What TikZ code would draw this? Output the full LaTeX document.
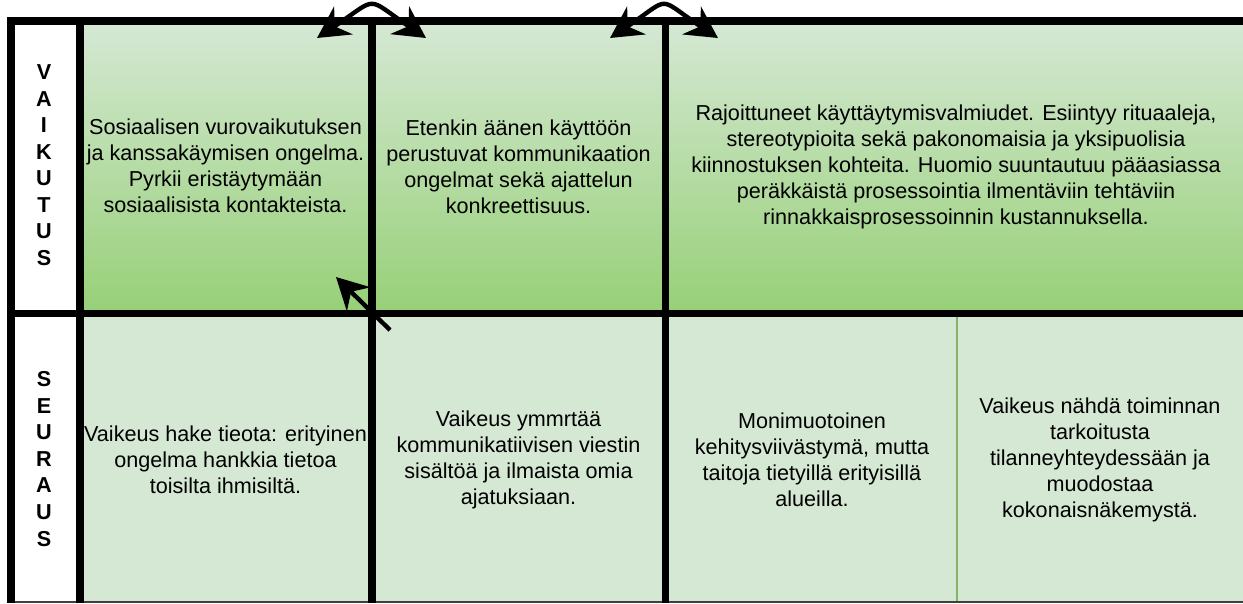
\documentclass[tikz,border=0pt]{standalone}
\usepackage{fontspec}
\setmainfont{Liberation Sans}
\usetikzlibrary{arrows.meta,positioning}
\definecolor{palegreen}{RGB}{213,232,212}
\definecolor{deepgreen}{RGB}{151,208,119}
\definecolor{thingreen}{RGB}{130,179,102}
\tikzset{
  celltext/.style={align=center, inner sep=0pt,
    font=\fontsize{12.3}{14.8}\selectfont},
  rowlabel/.style={align=center, inner sep=0pt,
    font=\bfseries\fontsize{12.3}{15.1}\selectfont},
  gridline/.style={line width=4pt},
  swapline/.style={line width=2.5pt,
    {Stealth[length=18pt,width=19pt,inset=6pt]}-{Stealth[length=18pt,width=19pt,inset=6pt]}},
  pushline/.style={line width=2.5pt, -{Stealth[length=18pt,width=19pt,inset=6pt]}}
}

\begin{document}
\begin{tikzpicture}[x=0.02cm,y=-0.02cm]
\useasboundingbox (0,0) rectangle (1243,603);
% backgrounds
\shade[top color=palegreen, bottom color=deepgreen] (80,21) rectangle (1243,313.5);
\fill[palegreen] (80,313.5) rectangle (1243,602);

% row labels
\node[rowlabel] (vaikutus) at (44,165) {V\\A\\I\\K\\U\\T\\U\\S};
\node[rowlabel] (seuraus) at (44,459) {S\\E\\U\\R\\A\\U\\S};

% upper row
\node[celltext] (v1) at (225.5,166) {Sosiaalisen vurovaikutuksen\\ja kanssakäymisen ongelma.\\Pyrkii eristäytymään\\sosiaalisista kontakteista.};
\node[celltext] (v2) at (518.5,167) {Etenkin äänen käyttöön\\perustuvat kommunikaation\\ongelmat sekä ajattelun\\konkreettisuus.};
\node[celltext] (v3) at (956,167) {Rajoittuneet käyttäytymisvalmiudet. Esiintyy rituaaleja,\\stereotypioita sekä pakonomaisia ja yksipuolisia\\kiinnostuksen kohteita. Huomio suuntautuu pääasiassa\\peräkkäistä prosessointia ilmentäviin tehtäviin\\rinnakkaisprosessoinnin kustannuksella.};

% lower row
\node[celltext] (s1) at (225.5,460) {Vaikeus hake tieota: erityinen\\ongelma hankkia tietoa\\toisilta ihmisiltä.};
\node[celltext] (s2) at (518.5,460) {Vaikeus ymmrtää\\kommunikatiivisen viestin\\sisältöä ja ilmaista omia\\ajatuksiaan.};
\node[celltext] (s3) at (812,460) {Monimuotoinen\\kehitysviivästymä, mutta\\taitoja tietyillä erityisillä\\alueilla.};
\node[celltext] (s4) at (1100,460) {Vaikeus nähdä toiminnan\\tarkoitusta\\tilanneyhteydessään ja\\muodostaa\\kokonaisnäkemystä.};

% grid
\draw[thingreen, line width=1pt] (957,316) -- (957,602);
\draw[black!75, line width=0.8pt] (11,602) -- (1243,602);
\draw[gridline] (1243,21) -- (11,21) -- (11,603);
\draw[gridline] (80,21) -- (80,603);
\draw[gridline] (11,313.5) -- (1243,313.5);
\draw[gridline] (372,21) -- (372,603);
\draw[gridline] (665.5,21) -- (665.5,603);

% arrows
\coordinate (swapAl) at (317,38);
\coordinate (swapAr) at (426,38);
\coordinate (swapBl) at (610,38);
\coordinate (swapBr) at (718,38);
\coordinate (pushtail) at (390,330);
\coordinate (pushtip) at (336,277);
\draw[swapline] (swapAl) .. controls (380,-4) and (364,-4) .. (swapAr);
\draw[swapline] (swapBl) .. controls (673,-4) and (655,-4) .. (swapBr);
\draw[pushline] (pushtail) -- (pushtip);
\end{tikzpicture}
\end{document}
